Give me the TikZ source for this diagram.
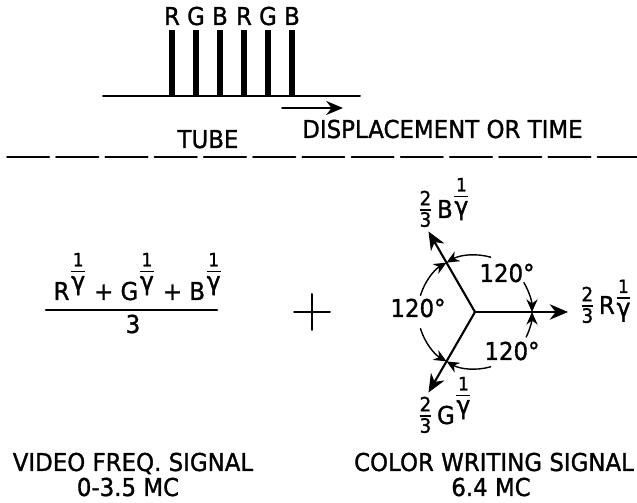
\documentclass[tikz,border=0pt]{standalone}
\usepackage{amsmath}
\usepackage{fontspec}
\setmainfont{DejaVu Sans}[FakeStretch=0.93,FakeBold=1.2]
\usetikzlibrary{arrows.meta,calc}
\newcommand\sm[2][13]{\mbox{\fontsize{#1}{#1}\selectfont #2}}
\newcommand\invg[1][15pt]{\raisebox{#1}{$\genfrac{}{}{1.1pt}{1}{\sm{\rule[-2pt]{0pt}{2pt}1}}{\sm[18]{\rule{0pt}{11.5pt}γ}}$}}
\newcommand\twoth{\raisebox{1.5pt}{$\genfrac{}{}{1.1pt}{1}{\sm[14]{\rule[-1.5pt]{0pt}{2pt}2}}{\sm[14]{3}}$}}
\begin{document}
\begin{tikzpicture}[line cap=round,line join=round,>=stealth,x=0.025cm,y=0.025cm,
	lbl/.style={font=\fontsize{17.5}{20}\selectfont,inner sep=0pt},
	stripe/.style={line width=3.6pt,line cap=butt},
	vec/.style={line width=1.5pt,-{Stealth[length=13pt,width=11pt]}},
	ang/.style={line width=1pt,-{Stealth[length=9pt,width=8pt]}}]
	\def\len{93}
	\def\rad{57}
	\useasboundingbox (0,0) rectangle (637,503);
	% tube
	\draw[line width=1.4pt] (103,407) -- (360,407);
	\foreach \c [count=\i from 0] in {R,G,B,R,G,B}{
		\draw[stripe] (172+24*\i,407) -- (172+24*\i,473);
		\node[lbl,anchor=base] (c\i) at (172+24*\i,478) {\c};
	}
	\coordinate (dA) at (282,395);
	\coordinate (dB) at (343,395);
	\draw[line width=1.1pt,-{Stealth[length=12pt,width=10pt]}] (dA) -- (dB);
	\node[lbl,anchor=base west] (disp) at (302,365) {DISPLACEMENT OR TIME};
	\node[lbl,anchor=base] (tube) at (208,355) {TUBE};
	\draw[line width=1.4pt,dash pattern=on 30pt off 5pt] (7,346) -- (637,346);
	% video signal
	\node[lbl,anchor=base] (num) at (138,203) {R\invg[16pt] + G\invg[16pt] + B\invg[16pt]};
	\node[lbl,anchor=base] (den) at (133,170) {3};
	\draw[line width=1.8pt] (46,193) -- (217,193);
	\draw[line width=1.4pt] (294,191) -- (330,191) (312,173) -- (312,209);
	% colour writing signal
	\coordinate (o) at (475,191);
	\foreach \a/\n in {0/R,120/B,240/G}
		\draw[vec] (o) -- ++(\a:\len) coordinate (t\n);
	\foreach \s/\e in {31/0,74/120,163/120,197/240,286/240,334/360}
		\draw[ang] ($(o)+(\s:\rad)$) arc[start angle=\s,end angle=\e,radius=\rad];
	\node[lbl,anchor=base] (aRB) at (507,221) {120°};
	\node[lbl,anchor=base] (aBG) at (418,186) {120°};
	\node[lbl,anchor=base] (aGR) at (512,143) {120°};
	\node[lbl,anchor=base] (lB) at (444,285) {\twoth\,B\invg[11pt]};
	\node[lbl,anchor=base] (lR) at (606,189) {\twoth\,R\invg[7pt]};
	\node[lbl,anchor=base] (lG) at (445,79) {\twoth\,G\invg[16pt]};
	% captions
	\node[lbl,anchor=base] (vid) at (133,32) {VIDEO FREQ. SIGNAL};
	\node[lbl,anchor=base] (vidf) at (128,7) {0-3.5 MC};
	\node[lbl,anchor=base] (col) at (494,32) {COLOR WRITING SIGNAL};
	\node[lbl,anchor=base] (colf) at (491,7) {6.4 MC};
\end{tikzpicture}
\end{document}
